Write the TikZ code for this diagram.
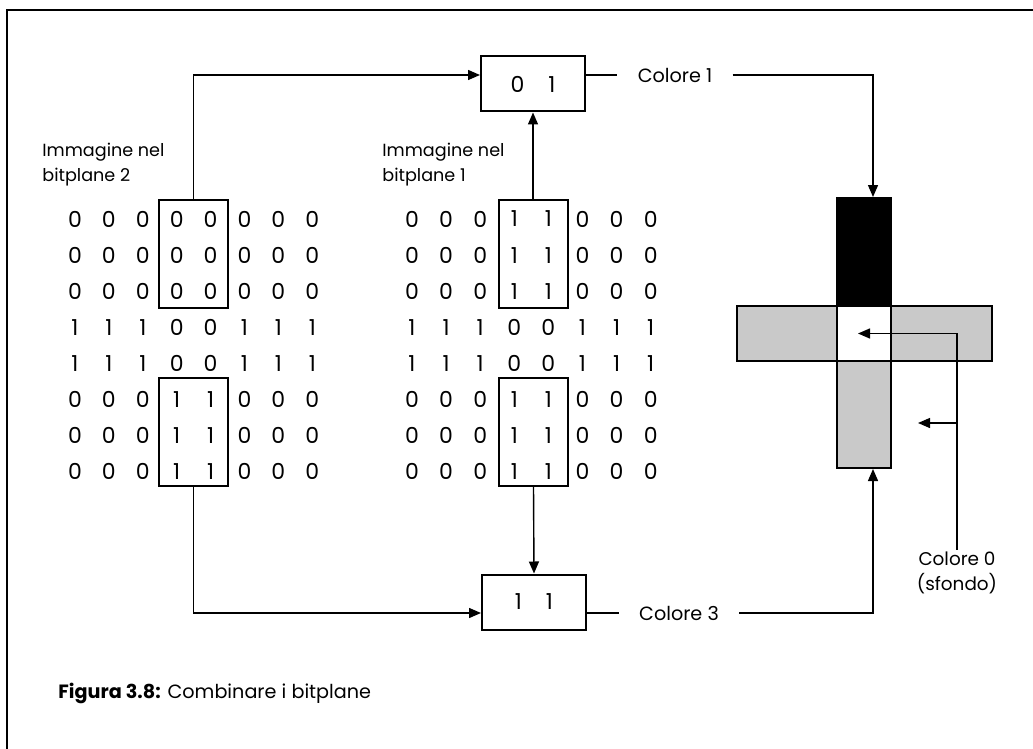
\documentclass[tikz,border=0pt]{standalone}
\usepackage{fontspec}
\setmainfont{Poppins}
\usetikzlibrary{arrows.meta,positioning}
\definecolor{crossGrey}{HTML}{C9C9C9}
\tikzset{
  bitdigit/.style={font=\fontsize{11}{13}\selectfont, inner sep=0pt},
  selbox/.style={rectangle, draw, line width=1pt, minimum width=34.5pt, minimum height=54pt, inner sep=0pt},
  colbox/.style={rectangle, draw, line width=1pt, minimum width=52pt, minimum height=27.5pt, inner sep=0pt, font=\fontsize{11}{13}\selectfont},
  colorlabel/.style={font=\fontsize{9.6}{12.5}\selectfont, inner xsep=10pt, inner ysep=2pt},
  imglabel/.style={font=\fontsize{8.8}{12.5}\selectfont, anchor=west, align=left, inner sep=0pt},
  crossbar/.style={rectangle, draw, line width=1pt, inner sep=0pt, minimum width=27pt},
  flowline/.style={line width=0.7pt},
  flowarrow/.style={-{Triangle[length=6pt,width=5pt]}, line width=0.7pt},
}

\begin{document}
\begin{tikzpicture}[x=0.5pt,y=-0.5pt]
  \useasboundingbox (0,0) rectangle (1033,749);
  % frame
  \draw[line width=0.9pt] (7,749) -- (7,10) -- (1033,10);

  % bitplane 2
  \node[imglabel] (lab2) at (42,165) {Immagine nel\\bitplane 2};
  \foreach \row [count=\r] in {{0,0,0,0,0,0,0,0},{0,0,0,0,0,0,0,0},{0,0,0,0,0,0,0,0},
      {1,1,1,0,0,1,1,1},{1,1,1,0,0,1,1,1},{0,0,0,1,1,0,0,0},{0,0,0,1,1,0,0,0},{0,0,0,1,1,0,0,0}}
    \foreach \d [count=\c] in \row
      \node[bitdigit] (l-\r-\c) at ({75+33.9*(\c-1)},{219+36.1*(\r-1)}) {\d};
  \node[selbox] (ltop) at (193.5,254) {};
  \node[selbox] (lbot) at (193.5,432) {};

  % bitplane 1
  \node[imglabel] (lab1) at (382,165) {Immagine nel\\bitplane 1};
  \foreach \row [count=\r] in {{0,0,0,1,1,0,0,0},{0,0,0,1,1,0,0,0},{0,0,0,1,1,0,0,0},
      {1,1,1,0,0,1,1,1},{1,1,1,0,0,1,1,1},{0,0,0,1,1,0,0,0},{0,0,0,1,1,0,0,0},{0,0,0,1,1,0,0,0}}
    \foreach \d [count=\c] in \row
      \node[bitdigit] (m-\r-\c) at ({412+34.1*(\c-1)},{219+36.1*(\r-1)}) {\d};
  \node[selbox] (mtop) at (533,254) {};
  \node[selbox] (mbot) at (533.5,432) {};

  % combined colour codes
  \node[colbox] (b01) at (533,84) {0\hspace{12pt}1};
  \node[colbox] (b11) at (534,602) {1\hspace{12pt}1};
  \node[colorlabel] (c1) at (675,75) {Colore 1};
  \node[colorlabel] (c3) at (679,613) {Colore 3};

  % cross on screen
  \node[crossbar, fill=black, minimum height=54pt] (ctop) at (864,252) {};
  \node[crossbar, fill=crossGrey, minimum width=127.5pt, minimum height=27.5pt] (hbar) at (864.5,333.5) {};
  \node[crossbar, fill=white, minimum height=27.5pt] (ccen) at (864,333.5) {};
  \node[crossbar, fill=crossGrey, minimum height=53.5pt] (cbot) at (864,414.5) {};
  \node[font=\fontsize{9.2}{12.5}\selectfont, align=center, inner sep=1pt] (c0) at (957,573) {Colore 0\\(sfondo)};
  \coordinate (c0mid) at (957,423);

  % caption
  \node[anchor=west, inner sep=0pt, font=\fontsize{9.6}{12}\selectfont] (cap) at (58,693) {\textbf{Figura 3.8:} Combinare i bitplane};

  % connections
  \draw[flowarrow] (ltop.north) |- (c1.west -| b01.west);
  \draw[flowarrow] (mtop.north) -- (b01.south);
  \draw[flowarrow] (mbot.south) -- (b11.north);
  \draw[flowarrow] (lbot.south) |- (c3.west -| b11.west);
  \draw[flowline] (c1.west -| b01.east) -- (c1.west);
  \draw[flowline] (c3.west -| b11.east) -- (c3.west);
  \draw[flowarrow] (c1.east) -| ([xshift=4.5pt]ctop.north);
  \draw[flowarrow] (c3.east) -| ([xshift=4.5pt]cbot.south);
  \draw[flowarrow] (c0.north) |- ([xshift=-3pt]ccen.center);
  \draw[flowarrow] (c0mid) -- ([xshift=13pt]cbot.east |- c0mid);
\end{tikzpicture}
\end{document}
